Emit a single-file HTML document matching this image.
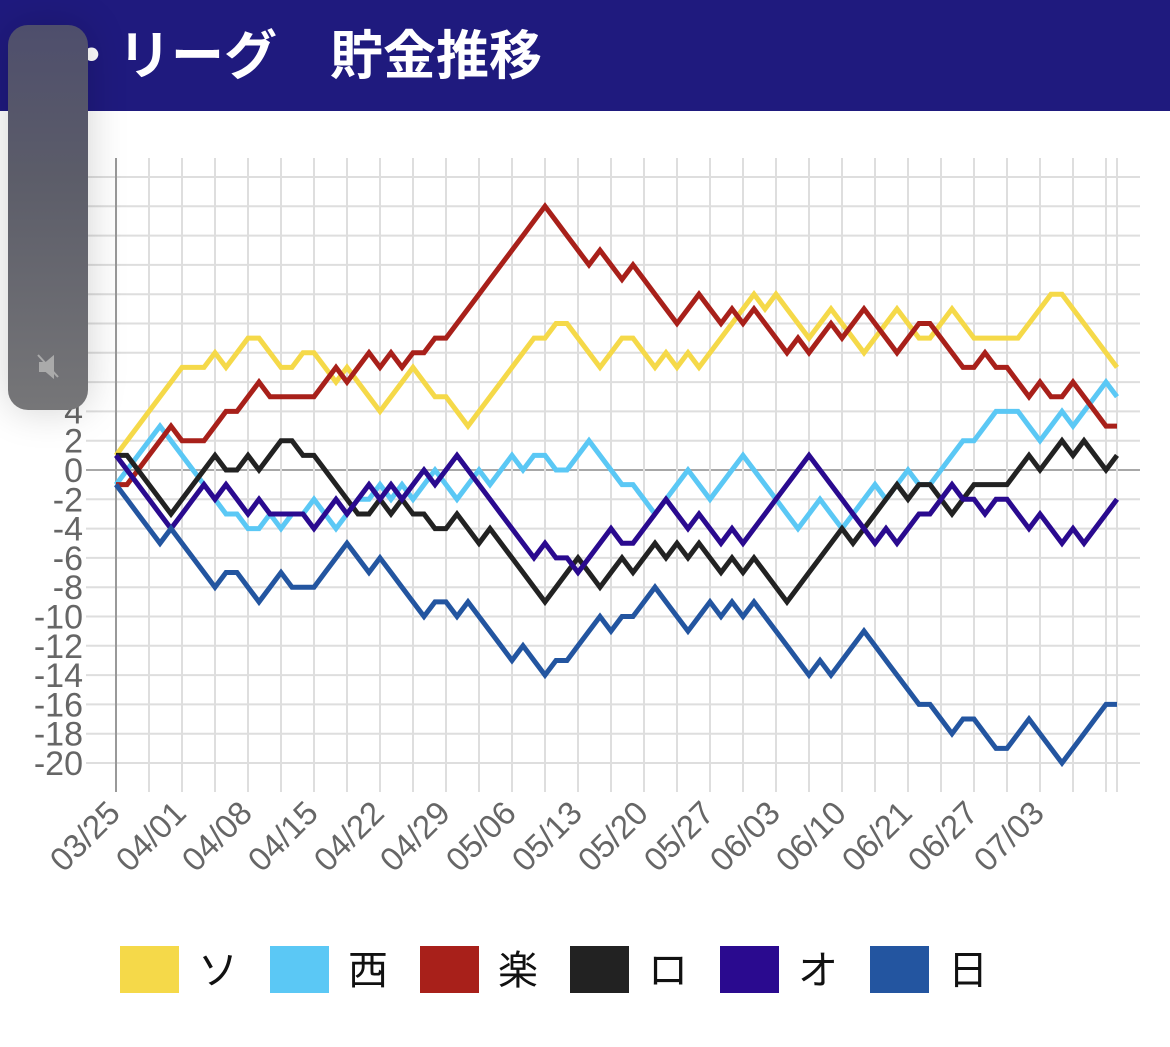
<!DOCTYPE html>
<html><head><meta charset="utf-8">
<style>
html,body{margin:0;padding:0;background:#fff;width:1170px;height:1047px;overflow:hidden;}
#header{position:absolute;left:0;top:0;width:1170px;height:111px;background:#1f1a7e;}
#title{position:absolute;left:12px;top:14px;font:bold 53px "Liberation Sans","Noto Sans CJK JP",sans-serif;color:#fff;white-space:pre;}
#overlay{position:absolute;left:8px;top:25px;width:80px;height:385px;border-radius:20px;background:linear-gradient(#4e4e6c,#5c5d69 40%,#767678);box-shadow:0 0 40px rgba(0,0,0,0.18);}
svg{position:absolute;left:0;top:0;}
</style></head><body>
<div id="header"><div id="title">パ・リーグ　貯金推移</div></div>
<svg id="chart" width="1170" height="1047"></svg>
<div id="overlay">
<svg width="80" height="385" style="position:relative"><g transform="translate(30,330)" fill="none" stroke="#aaa" stroke-width="2"><path d="M2 8 h6 l7 -6 v20 l-7 -6 h-6 z" fill="#aaa"/><line x1="0" y1="0" x2="20" y2="22"/></g></svg>
</div>
<script>
const labels=["03/25","04/01","04/08","04/15","04/22","04/29","05/06","05/13","05/20","05/27","06/03","06/10","06/21","06/27","07/03"];
const yTicks=[-20,-18,-16,-14,-12,-10,-8,-6,-4,-2,0,2,4,6,8,10,12,14,16,18,20];
const teamNames=["ソ","西","楽","ロ","オ","日"];
const teamColors=["#f5d949","#5bc8f5","#a8201a","#222222","#2a0a8f","#2355a0"];
const soft=[1,2,3,4,5,6,7,7,7,8,7,8,9,9,8,7,7,8,8,7,6,7,6,5,4,5,6,7,6,5,5,4,3,4,5,6,7,8,9,9,10,10,9,8,7,8,9,9,8,7,8,7,8,7,8,9,10,11,12,11,12,11,10,9,10,11,10,9,8,9,10,11,10,9,9,10,11,10,9,9,9,9,9,10,11,12,12,11,10,9,8,7];
const seibu=[-1,0,1,2,3,2,1,0,-1,-2,-3,-3,-4,-4,-3,-4,-3,-3,-2,-3,-4,-3,-2,-2,-1,-2,-1,-2,-1,0,-1,-2,-1,0,-1,0,1,0,1,1,0,0,1,2,1,0,-1,-1,-2,-3,-2,-1,0,-1,-2,-1,0,1,0,-1,-2,-3,-4,-3,-2,-3,-4,-3,-2,-1,-2,-1,0,-1,-1,0,1,2,2,3,4,4,4,3,2,3,4,3,4,5,6,5];
const rakuten=[-1,-1,0,1,2,3,2,2,2,3,4,4,5,6,5,5,5,5,5,6,7,6,7,8,7,8,7,8,8,9,9,10,11,12,13,14,15,16,17,18,17,16,15,14,15,14,13,14,13,12,11,10,11,12,11,10,11,10,11,10,9,8,9,8,9,10,9,10,11,10,9,8,9,10,10,9,8,7,7,8,7,7,6,5,6,5,5,6,5,4,3,3];
const lotte=[1,1,0,-1,-2,-3,-2,-1,0,1,0,0,1,0,1,2,2,1,1,0,-1,-2,-3,-3,-2,-3,-2,-3,-3,-4,-4,-3,-4,-5,-4,-5,-6,-7,-8,-9,-8,-7,-6,-7,-8,-7,-6,-7,-6,-5,-6,-5,-6,-5,-6,-7,-6,-7,-6,-7,-8,-9,-8,-7,-6,-5,-4,-5,-4,-3,-2,-1,-2,-1,-1,-2,-3,-2,-1,-1,-1,-1,0,1,0,1,2,1,2,1,0,1];
const orix=[1,0,-1,-2,-3,-4,-3,-2,-1,-2,-1,-2,-3,-2,-3,-3,-3,-3,-4,-3,-2,-3,-2,-1,-2,-1,-2,-1,0,-1,0,1,0,-1,-2,-3,-4,-5,-6,-5,-6,-6,-7,-6,-5,-4,-5,-5,-4,-3,-2,-3,-4,-3,-4,-5,-4,-5,-4,-3,-2,-1,0,1,0,-1,-2,-3,-4,-5,-4,-5,-4,-3,-3,-2,-1,-2,-2,-3,-2,-2,-3,-4,-3,-4,-5,-4,-5,-4,-3,-2];
const nippon=[-1,-2,-3,-4,-5,-4,-5,-6,-7,-8,-7,-7,-8,-9,-8,-7,-8,-8,-8,-7,-6,-5,-6,-7,-6,-7,-8,-9,-10,-9,-9,-10,-9,-10,-11,-12,-13,-12,-13,-14,-13,-13,-12,-11,-10,-11,-10,-10,-9,-8,-9,-10,-11,-10,-9,-10,-9,-10,-9,-10,-11,-12,-13,-14,-13,-14,-13,-12,-11,-12,-13,-14,-15,-16,-16,-17,-18,-17,-17,-18,-19,-19,-18,-17,-18,-19,-20,-19,-18,-17,-16,-16];
const seriesList=[soft,seibu,rakuten,lotte,orix,nippon];

const NS="http://www.w3.org/2000/svg";
const svg=document.getElementById('chart');
const N=soft.length;
const X0=116,X1=1117,Y0=470,UNIT=14.65;
function xs(i){return X0+(X1-X0)*i/(N-1);}
function ys(v){return Y0-v*UNIT;}
function mk(tag,attrs){const e=document.createElementNS(NS,tag);for(const k in attrs)e.setAttribute(k,attrs[k]);svg.appendChild(e);return e;}

yTicks.forEach(v=>{
  const l=mk('line',{x1:86,x2:1140,y1:ys(v),y2:ys(v),stroke:v===0?'#a8a8a8':'#dedede','stroke-width':2});
  
  
  const t=mk('text',{x:83,y:ys(v)+12,'text-anchor':'end','font-size':34,fill:'#666','font-family':'Liberation Sans, sans-serif'});
  t.textContent=String(v);
  
  
});
for(let i=0;i<N;i++){
  if(i%3!==0&&i!==N-1)continue;
  const l=mk('line',{x1:xs(i),x2:xs(i),y1:158,y2:792,stroke:i===0?'#999':'#dedede','stroke-width':2});
  
  
}
labels.forEach((lab,k)=>{
  const x=xs(k*6)+6,y=815;
  const t=mk('text',{x:x,y:y,'text-anchor':'end','font-size':33,fill:'#666','font-family':'Liberation Sans, sans-serif',transform:`rotate(-45 ${x} ${y})`});
  t.textContent=lab;
  
  
});
seriesList.forEach((s,k)=>{
  const pts=s.map((v,i)=>xs(i).toFixed(1)+','+ys(v).toFixed(1)).join(' ');
  const p=mk('polyline',{points:pts,fill:'none',stroke:teamColors[k],'stroke-width':5,'stroke-linejoin':'miter'});
  
  
});
teamNames.forEach((n,k)=>{
  const bx=120+150*k;
  const r=mk('rect',{x:bx,y:946,width:59,height:47,fill:teamColors[k]});
  
  
  const t=mk('text',{x:bx+78,y:984,'font-size':40,fill:'#111','font-family':'Liberation Sans, Noto Sans CJK JP, sans-serif'});
  t.textContent=n;
  
  
});
</script>
</body></html>
